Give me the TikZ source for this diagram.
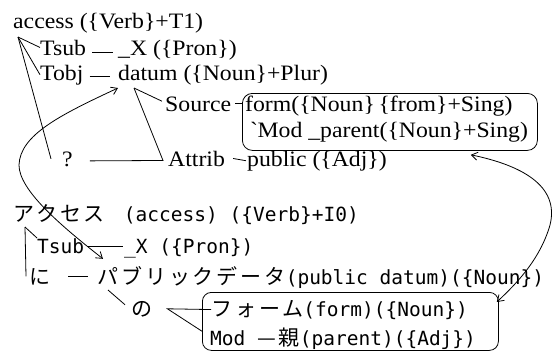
\documentclass[tikz,border=0pt]{standalone}
\usepackage{fontspec}
\setmainfont{Liberation Serif}
\newfontfamily\topf[FakeStretch=1.08]{Liberation Serif}
\newfontfamily\monof{DejaVu Sans Mono}
\newfontfamily\jpf[LetterSpace=14]{Noto Sans CJK JP}
\newcommand\jtext[1]{{\jpf\fontsize{21}{24}\selectfont #1}}
\usetikzlibrary{arrows.meta}
\tikzset{
  toptext/.style={inner sep=0pt, anchor=base west, font=\topf\fontsize{22}{24}\selectfont},
  bottext/.style={inner sep=0pt, anchor=base west, font=\monof\fontsize{19.5}{22}\selectfont},
  conn/.style={line width=0.8pt},
  dblarrow/.style={conn, {Straight Barb[length=6pt,width=8pt]}-{Straight Barb[length=6pt,width=8pt]}},
  roundbox/.style={draw, line width=0.8pt, rounded corners=10pt, anchor=north west, inner sep=0pt},
}
\begin{document}
\begin{tikzpicture}[x=1pt,y=-1pt]
\useasboundingbox (0,0) rectangle (553,354);
% ---------- top (English) ----------
\node[toptext] (access) at (13,28) {access (\{Verb\}+T1)};
\node[toptext] (tsub) at (40,55) {Tsub};
\node[toptext] (x1) at (118,55) {\_X (\{Pron\})};
\node[toptext] (tobj) at (40,80) {Tobj};
\node[toptext] (datum) at (118,80) {datum (\{Noun\}+Plur)};
\node[toptext] (source) at (165,111) {Source};
\node[roundbox, minimum width=295pt, minimum height=57pt] (boxtop) at (242,93) {};
\node[toptext] (form1) at (245,111) {form(\{Noun\}\,\{from\}+Sing)};
\node[toptext] (mod1) at (250,137) {\textasciigrave Mod \_parent(\{Noun\}+Sing)};
\node[toptext] (q) at (62,166) {?};
\node[toptext] (attrib) at (168,166) {Attrib};
\node[toptext] (pub1) at (247,166) {public (\{Adj\})};

\coordinate (p0) at ([shift={(5,9)}]access.base west);
\draw[conn] (p0) -- (tsub.west);
\draw[conn] (p0) -- (tobj.west);
\draw[conn] (p0) -- ([xshift=-11pt]q.west);
\draw[conn] ([shift={(6,-3)}]tsub.base east) -- ([shift={(-5,-3)}]x1.base west);
\draw[conn] ([shift={(6,-4)}]tobj.base east) -- ([shift={(-8,-4)}]datum.base west);
\coordinate (d0) at ([shift={(16,8)}]datum.base west);
\draw[conn] (d0) -- ([shift={(-3,5)}]source.north west);
\draw[conn] (d0) -- ([shift={(-5,2)}]attrib.west) -- ([shift={(17,2)}]q.east);
\draw[conn] ([xshift=4pt]source.east) -- (boxtop.west |- source.east);
\draw[conn] ([xshift=8pt]attrib.east) -- ([xshift=-1pt]pub1.west);

% ---------- bottom (Japanese) ----------
\node[bottext] (akusesu) at (13,221) {\jtext{アクセス}\hspace{19pt}(access) (\{Verb\}+I0)};
\node[bottext] (tsub2) at (37,253) {Tsub};
\node[bottext] (x2) at (124,253) {\_X (\{Pron\})};
\node[bottext] (ni) at (29,284) {\jtext{に}};
\node[bottext] (pub2) at (97,284) {\jtext{パブリックデータ}(public datum)(\{Noun\})};
\node[bottext] (no) at (131,316) {\jtext{の}};
\node[roundbox, rounded corners=9pt, minimum width=296pt, minimum height=58pt] (boxbot) at (202,292) {};
\node[bottext] (form2) at (211,316) {\jtext{フォーム}(form)(\{Noun\})};
\node[bottext] (mod2) at (210,345) {Mod \jtext{—親}(parent)(\{Adj\})};

\coordinate (p1) at ([shift={(12,6)}]akusesu.base west);
\draw[conn] (p1) -- (tsub2.north west);
\draw[conn] (p1) -- ([xshift=-3pt]ni.west);
\draw[conn] ([shift={(4,-7)}]tsub2.base east) -- ([shift={(-1,-7)}]x2.base west);
\draw[conn] ([shift={(18,-8)}]ni.base east) -- ([shift={(-9,-8)}]pub2.base west);
\draw[conn] ([shift={(11,6)}]pub2.base west) -- ([shift={(-6,4)}]no.north west);
\coordinate (nv) at ([xshift=15pt]no.east);
\draw[conn] (form2.west) -- (nv) -- ([shift={(-8,-7)}]mod2.west);

% ---------- correspondence arrows ----------
\draw[dblarrow] ([shift={(0,8)}]datum.base west) .. controls (60,115) and (20,135) .. (19,165)
   .. controls (19,190) and (60,225) .. ([shift={(6,-7)}]pub2.north west);
\draw[dblarrow] ([shift={(-67,4)}]boxtop.south east) .. controls (520,165) and (560,185) .. (550,225)
   .. controls (540,260) and (515,285) .. ([shift={(-2,10)}]boxbot.north east);
\end{tikzpicture}
\end{document}
